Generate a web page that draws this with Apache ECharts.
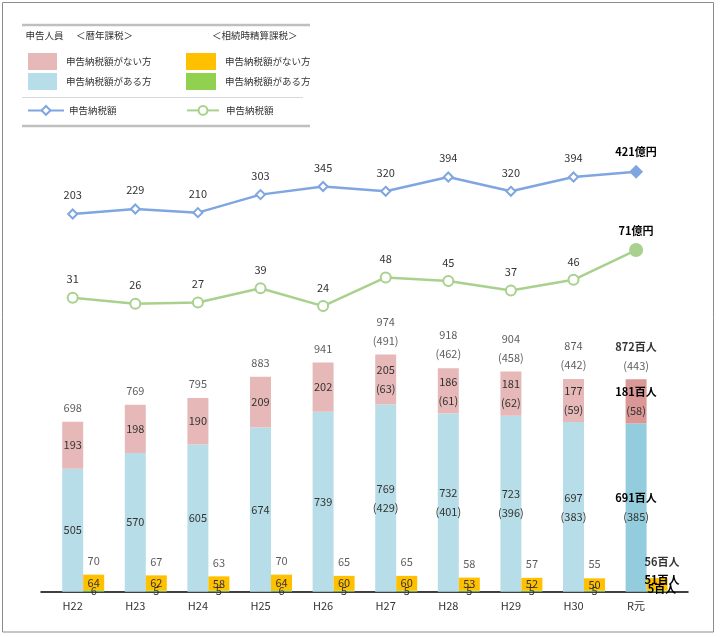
<!DOCTYPE html>
<html><head><meta charset="utf-8">
<script src="https://cdn.jsdelivr.net/npm/echarts@6/dist/echarts.min.js"></script>
<style>html,body{margin:0;padding:0;background:#fff}#c{width:721px;height:637px}</style>
</head><body><div id="c"></div>
<script>
const categories = ['H22','H23','H24','H25','H26','H27','H28','H29','H30','R元'];
// 暦年課税 (百人)
const rekiAru = [505,570,605,674,739,769,732,723,697,691];
const rekiAruParen = [null,null,null,null,null,429,401,396,383,385];
const rekiNai = [193,198,190,209,202,205,186,181,177,181];
const rekiNaiParen = [null,null,null,null,null,63,61,62,59,58];
const rekiTotal = [698,769,795,883,941,974,918,904,874,872];
const rekiTotalParen = [null,null,null,null,null,491,462,458,442,443];
// 相続時精算課税 (百人)
const souNai = [64,62,58,64,60,60,53,52,50,51];
const souAru = [6,5,5,6,5,5,5,5,5,5];
const souTotal = [70,67,63,70,65,65,58,57,55,56];
// 申告納税額 (億円)
const rekiTax = [203,229,210,303,345,320,394,320,394,421];
const souTax = [31,26,27,39,24,48,45,37,46,71];

const FONT = 'Noto Sans CJK JP';
const TXT = '#333333';
const last = categories.length - 1;

const C_PINK = '#e6b9b8', C_PINK_L = '#d99795';
const C_BLUE = '#b7dee8', C_BLUE_L = '#93cddd';
const C_ORANGE = '#ffc000', C_GREEN = '#92d050';
const C_LBLUE = '#7fa6e0', C_LGREEN = '#a9d18e';

function barLabel(vals, parens, unit) {
  return function (p) {
    const i = p.dataIndex;
    let s = (i === last) ? '{b|' + vals[i] + unit + '}' : String(vals[i]);
    if (parens && parens[i] != null) s += '\n(' + parens[i] + ')';
    return s;
  };
}
const rich = { b: { fontWeight: 'bold', color: '#000', fontFamily: FONT, fontSize: 11 } };
const baseLabel = { show: true, color: TXT, fontFamily: FONT, fontSize: 11, lineHeight: 19, rich: rich };

function withLast(vals, extra) {
  return vals.map((v, i) => i === last ? Object.assign({ value: v }, extra) : v);
}

const grids = [
  { left: 41.4, right: 53.6, top: 104.7, bottom: 45.3 },
  { left: 62.4, right: 32.6, top: 104.7, bottom: 45.3 },
  { left: 41.4, right: 53.6, top: 156.4, bottom: 383.6 },
  { left: 41.4, right: 53.6, top: 215.45, bottom: 302.3 },
  { left: 41, right: 33, top: 104.7, bottom: 45.3 }
];
const hiddenCat = (g) => ({ type: 'category', gridIndex: g, data: categories, show: false });
const xAxes = [
  { type: 'category', gridIndex: 0, data: categories, axisLine: { show: false }, axisTick: { show: false },
    axisLabel: { color: TXT, fontFamily: FONT, fontSize: 11, margin: 9 } },
  hiddenCat(1), hiddenCat(2), hiddenCat(3),
  { type: 'value', gridIndex: 4, min: 0, max: 1, axisLine: { show: true, onZero: false, lineStyle: { color: '#000', width: 1.5 } },
    axisTick: { show: false }, axisLabel: { show: false }, splitLine: { show: false } }
];
const yAxes = [
  { type: 'value', gridIndex: 0, min: 0, max: 2000, show: false },
  { type: 'value', gridIndex: 1, min: 0, max: 2000, show: false },
  { type: 'value', gridIndex: 2, min: 0, max: 500, show: false },
  { type: 'value', gridIndex: 3, min: 0, max: 100, show: false },
  { type: 'value', gridIndex: 4, min: 0, max: 1, show: false }
];

const N_RN = '暦年課税 申告納税額がない方';
const N_RA = '暦年課税 申告納税額がある方';
const N_SN = '相続時精算課税 申告納税額がない方';
const N_SA = '相続時精算課税 申告納税額がある方';
const N_RT = '暦年課税 申告納税額';
const N_ST = '相続時精算課税 申告納税額';

const series = [
  { name: N_RA, type: 'bar', xAxisIndex: 0, yAxisIndex: 0, stack: 'r', barWidth: 21,
    itemStyle: { color: C_BLUE }, data: withLast(rekiAru, { itemStyle: { color: C_BLUE_L } }),
    label: Object.assign({}, baseLabel, { position: 'inside', formatter: barLabel(rekiAru, rekiAruParen, '百人') }) },
  { name: N_RN, type: 'bar', xAxisIndex: 0, yAxisIndex: 0, stack: 'r', barWidth: 21,
    itemStyle: { color: C_PINK }, data: withLast(rekiNai, { itemStyle: { color: C_PINK_L } }),
    label: Object.assign({}, baseLabel, { position: 'inside', formatter: barLabel(rekiNai, rekiNaiParen, '百人') }) },
  { name: 'rekiTotal', type: 'scatter', xAxisIndex: 0, yAxisIndex: 0, symbolSize: 1,
    itemStyle: { color: 'rgba(0,0,0,0)' }, data: rekiTotal,
    label: Object.assign({}, baseLabel, { position: 'top', distance: 4, formatter: barLabel(rekiTotal, rekiTotalParen, '百人') }) },
  { name: N_SA, type: 'bar', xAxisIndex: 1, yAxisIndex: 1, stack: 's', barWidth: 21,
    itemStyle: { color: C_GREEN }, data: withLast(souAru, { label: { offset: [5, -2] } }),
    label: Object.assign({}, baseLabel, { position: 'inside', lineHeight: 12, formatter: barLabel(souAru, null, '百人') }) },
  { name: N_SN, type: 'bar', xAxisIndex: 1, yAxisIndex: 1, stack: 's', barWidth: 21,
    itemStyle: { color: C_ORANGE }, data: withLast(souNai, { label: { offset: [5, -4] } }),
    label: Object.assign({}, baseLabel, { position: 'inside', lineHeight: 12, formatter: barLabel(souNai, null, '百人') }) },
  { name: 'souTotal', type: 'scatter', xAxisIndex: 1, yAxisIndex: 1, symbolSize: 1,
    itemStyle: { color: 'rgba(0,0,0,0)' }, data: withLast(souTotal, { label: { offset: [5, -2] } }),
    label: Object.assign({}, baseLabel, { position: 'top', distance: 4, formatter: barLabel(souTotal, null, '百人') }) },
  { name: N_RT, type: 'line', xAxisIndex: 2, yAxisIndex: 2, symbol: 'diamond', symbolSize: 9,
    lineStyle: { color: C_LBLUE, width: 2.5 }, itemStyle: { color: '#fff', borderColor: C_LBLUE, borderWidth: 2 },
    data: withLast(rekiTax, { symbolSize: 11, itemStyle: { color: C_LBLUE } }),
    label: Object.assign({}, baseLabel, { position: 'top', distance: 4, formatter: barLabel(rekiTax, null, '億円') }) },
  { name: N_ST, type: 'line', xAxisIndex: 3, yAxisIndex: 3, symbol: 'circle', symbolSize: 10,
    lineStyle: { color: C_LGREEN, width: 2.5 }, itemStyle: { color: '#fff', borderColor: C_LGREEN, borderWidth: 2 },
    data: withLast(souTax, { symbolSize: 12, itemStyle: { color: C_LGREEN } }),
    label: Object.assign({}, baseLabel, { position: 'top', distance: 3, formatter: barLabel(souTax, null, '億円') }) }
];

const legText = { color: TXT, fontFamily: FONT, fontSize: 9.5 };
const legFmt = (n) => n.split(' ')[1];
const legends = [
  { left: 28, top: 53, orient: 'vertical', padding: 0, itemWidth: 29, itemHeight: 17, itemGap: 3, icon: 'rect',
    data: [N_RN, N_RA], formatter: legFmt, textStyle: Object.assign({ padding: [0, 0, 0, 4] }, legText), selectedMode: false },
  { left: 186, top: 53, orient: 'vertical', padding: 0, itemWidth: 30, itemHeight: 17, itemGap: 3, icon: 'rect',
    data: [N_SN, N_SA], formatter: legFmt, textStyle: Object.assign({ padding: [0, 0, 0, 4] }, legText), selectedMode: false },
  { left: 27, top: 105, padding: 0, itemWidth: 36, itemHeight: 11,
    data: [N_RT], formatter: legFmt, textStyle: legText, selectedMode: false },
  { left: 186, top: 105, padding: 0, itemWidth: 32, itemHeight: 11,
    data: [N_ST], formatter: legFmt, textStyle: Object.assign({ padding: [0, 0, 0, 2] }, legText), selectedMode: false }
];

const graphic = [
  { type: 'rect', shape: { x: 2.5, y: 2.5, width: 711, height: 629.5 }, style: { fill: 'none', stroke: '#8c8c8c', lineWidth: 1 }, silent: true },
  { type: 'line', shape: { x1: 22, y1: 25, x2: 310, y2: 25 }, style: { stroke: '#bfbfbf', lineWidth: 2.5 }, silent: true },
  { type: 'line', shape: { x1: 22, y1: 97.5, x2: 303, y2: 97.5 }, style: { stroke: '#d9d9d9', lineWidth: 1 }, silent: true },
  { type: 'line', shape: { x1: 22, y1: 126, x2: 310, y2: 126 }, style: { stroke: '#bfbfbf', lineWidth: 2.5 }, silent: true },
  { type: 'text', left: 25.5, top: 31, style: { text: '申告人員', fill: TXT, font: '9.5px "Noto Sans CJK JP"' }, silent: true },
  { type: 'text', left: 76, top: 31, style: { text: '＜暦年課税＞', fill: TXT, font: '9.5px "Noto Sans CJK JP"' }, silent: true },
  { type: 'text', left: 212, top: 31, style: { text: '＜相続時精算課税＞', fill: TXT, font: '9.5px "Noto Sans CJK JP"' }, silent: true }
];

const chart = echarts.init(document.getElementById('c'));
chart.setOption({
  animation: false,
  backgroundColor: '#fff',
  textStyle: { fontFamily: FONT },
  grid: grids, xAxis: xAxes, yAxis: yAxes,
  legend: legends, graphic: graphic, series: series
});
</script></body></html>
